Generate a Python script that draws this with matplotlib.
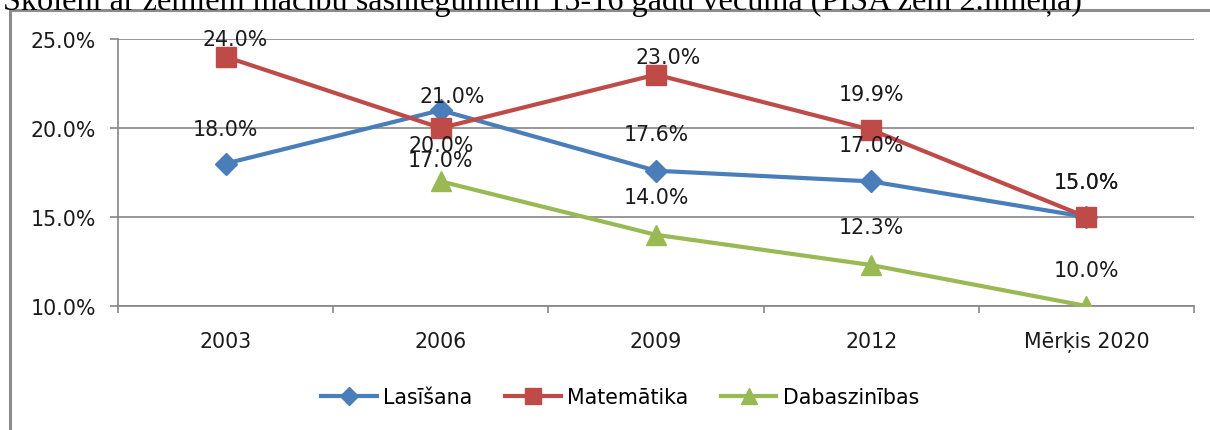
import matplotlib
matplotlib.use("Agg")
import matplotlib.pyplot as plt
import numpy as np
from matplotlib.patches import Rectangle

categories = ["2003", "2006", "2009", "2012", "Mērķis 2020"]
lasisana = [18.0, 21.0, 17.6, 17.0, 15.0]
matematika = [24.0, 20.0, 23.0, 19.9, 15.0]
dabaszinibas = [np.nan, 17.0, 14.0, 12.3, 10.0]
series_names = ["Lasīšana", "Matemātika", "Dabaszinības"]
yticks = [10.0, 15.0, 20.0, 25.0]
title = "Skolēni ar zemiem mācību sasniegumiem 15-16 gadu vecumā (PISA zem 2.līmeņa)"

# label offsets (pixels) per series/point
offsets = [
    [(0, 35), (11, 14), (0, 37), (0, 36), (0, 35)],
    [(10, 18), (0, -17), (12, 18), (0, 36), (0, 35)],
    [None, (0, 21), (0, 38), (0, 38), (0, 36)],
]

W, H = 1210, 431
fig = plt.figure(figsize=(W / 100, H / 100), dpi=100)
plt.rcParams['font.family'] = ['DejaVu Sans']
FS = 14.8

# outer chart frame
fig.patches.append(Rectangle((10 / W, -0.1), 1.2, (H - 11) / H + 0.1,
                             transform=fig.transFigure, fill=False,
                             edgecolor="#8c8c8c", linewidth=2.2))
fig.text(3 / W, 1 - 10 / H, title, family="Liberation Serif", fontsize=23.2,
         ha="left", va="baseline", color="black")

ax = fig.add_axes([118 / W, 1 - 307 / H, (1194 - 118) / W, (307 - 40) / H])
x = np.arange(len(categories))
colors = ["#4A7EBB", "#BE4B48", "#98B954"]
markers = ["D", "s", "^"]
msizes = [11, 14, 14]
data = [lasisana, matematika, dabaszinibas]
for i, (vals, c, m, ms, name) in enumerate(zip(data, colors, markers, msizes, series_names)):
    ax.plot(x, vals, color=c, marker=m, markersize=ms, linewidth=3, label=name,
            zorder=3 + i)
for i, vals in enumerate(data):
    for j, v in enumerate(vals):
        if np.isnan(v):
            continue
        dx, dy = offsets[i][j]
        ax.annotate(f"{v:.1f}%", (x[j], v), xytext=(dx, dy),
                    textcoords="offset pixels", ha="center", va="center",
                    fontsize=FS, color="#1a1a1a", zorder=10)

ax.set_xlim(-0.5, len(categories) - 0.5)
ax.set_ylim(10, 25)
ax.set_yticks(yticks)
ax.set_yticklabels([f"{t:.1f}%" for t in yticks], fontsize=FS, color="#1a1a1a")
ax.set_xticks(np.arange(len(categories) + 1) - 0.5)
ax.set_xticklabels([])
ax.set_xticks(x, minor=True)
ax.set_xticklabels(categories, minor=True, fontsize=FS, color="#1a1a1a")
ax.tick_params(axis="x", which="major", length=5, color="#868686", width=1.2)
ax.tick_params(axis="x", which="minor", length=0, pad=18)
ax.tick_params(axis="y", length=6, color="#868686", width=1.2, pad=10)
ax.grid(axis="y", color="#868686", linewidth=1.2)
ax.set_axisbelow(True)
for s in ["top", "right"]:
    ax.spines[s].set_visible(False)
for s in ["left", "bottom"]:
    ax.spines[s].set_color("#868686")
    ax.spines[s].set_linewidth(1.2)

fig.legend(loc="center", bbox_to_anchor=(620 / W, 1 - 398 / H), ncol=3,
           frameon=False, fontsize=FS, handlelength=2.7, columnspacing=1.6,
           handletextpad=0.3, markerscale=0.8)

fig.savefig("out.png", dpi=100)
